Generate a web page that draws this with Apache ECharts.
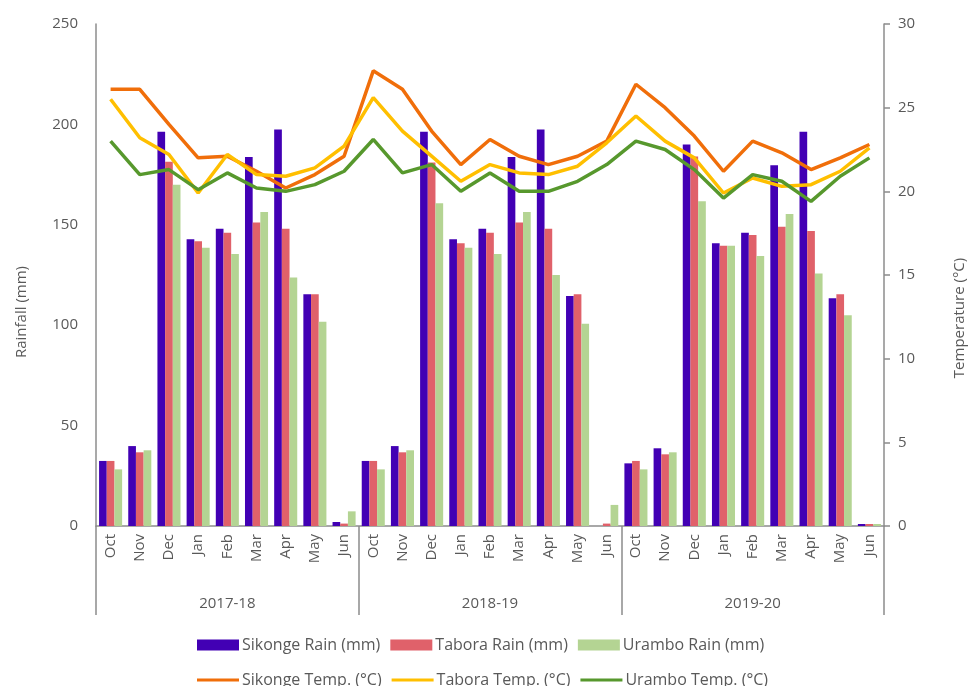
<!DOCTYPE html>
<html>
<head>
<meta charset="utf-8">
<script src="https://cdn.jsdelivr.net/npm/echarts@6/dist/echarts.min.js"></script>
<style>
    html, body { margin: 0; padding: 0; background: #fff; }
    #chart { width: 971px; height: 686px; }
</style>
</head>
<body>
<div id="chart"></div>
<script>
    // months per season, 3 seasons
    const months = ['Oct', 'Nov', 'Dec', 'Jan', 'Feb', 'Mar', 'Apr', 'May', 'Jun']
    const seasons = ['2017-18', '2018-19', '2019-20']
    const categories = [].concat(months, months, months)

    // rainfall (mm), left axis
    const sikongeRain = [32.4, 39.8, 196.4, 142.8, 148, 183.8, 197.5, 115.4, 2,
        32.4, 39.8, 196.4, 142.8, 148, 183.8, 197.5, 114.5, 0,
        31.2, 38.7, 190, 140.8, 146, 179.6, 196.4, 113.4, 1]
    const taboraRain = [32.4, 36.7, 181.4, 141.8, 146, 151.2, 148, 115.4, 1.2,
        32.4, 36.7, 181, 140.8, 146, 151.2, 148, 115.4, 1.2,
        32.4, 35.7, 184, 139.6, 144.9, 149, 146.9, 115.4, 1]
    const uramboRain = [28.2, 37.7, 170, 138.6, 135.5, 156.4, 123.8, 101.7, 7.3,
        28.2, 37.7, 160.7, 138.6, 135.5, 156.4, 125, 100.7, 10.5,
        28.2, 36.7, 161.7, 139.6, 134.5, 155.4, 125.8, 104.9, 1]

    // temperature (°C), right axis
    const sikongeTemp = [26.1, 26.1, 24.0, 22.0, 22.1, 21.2, 20.2, 21.0, 22.1,
        27.2, 26.1, 23.6, 21.6, 23.1, 22.1, 21.6, 22.1, 23.0,
        26.4, 25.0, 23.3, 21.2, 23.0, 22.3, 21.3, 22.0, 22.8]
    const taboraTemp = [25.5, 23.2, 22.2, 19.9, 22.2, 21.0, 20.9, 21.4, 22.7,
        25.6, 23.6, 22.1, 20.6, 21.6, 21.1, 21.0, 21.5, 22.9,
        24.5, 23.0, 22.0, 19.9, 20.8, 20.3, 20.4, 21.2, 22.6]
    const uramboTemp = [23.0, 21.0, 21.3, 20.1, 21.1, 20.2, 20.0, 20.4, 21.2,
        23.1, 21.1, 21.6, 20.0, 21.1, 20.0, 20.0, 20.6, 21.6,
        23.0, 22.5, 21.3, 19.6, 21.0, 20.6, 19.4, 20.9, 22.0]

    const font = 'Open Sans'
    const textColor = '#595959'
    const axisColor = '#8c8c8c'

    const chart = echarts.init(document.getElementById('chart'))

    const bar = (name, data, color) => ({
        name: name,
        type: 'bar',
        yAxisIndex: 0,
        barGap: '0%',
        barCategoryGap: '21%',
        itemStyle: { color: color },
        data: data
    })
    const line = (name, data, color) => ({
        name: name,
        type: 'line',
        yAxisIndex: 1,
        symbol: 'none',
        lineStyle: { color: color, width: 3.5 },
        itemStyle: { color: color },
        data: data
    })

    const option = {
        animation: false,
        textStyle: { fontFamily: font },
        grid: { left: 96, right: 87, top: 24, bottom: 160, containLabel: false },
        legend: [
            {
                data: ['Sikonge Rain (mm)', 'Tabora Rain (mm)', 'Urambo Rain (mm)'],
                left: 192,
                top: 632,
                icon: 'rect',
                itemWidth: 42,
                itemHeight: 11,
                itemGap: 10,
                textStyle: { fontFamily: font, fontSize: 16, color: textColor, padding: [0, 0, 0, -2] }
            },
            {
                data: ['Sikonge Temp. (°C)', 'Tabora Temp. (°C)', 'Urambo Temp. (°C)'],
                left: 192,
                top: 667,
                icon: 'rect',
                itemWidth: 42,
                itemHeight: 3,
                itemGap: 10,
                textStyle: { fontFamily: font, fontSize: 16, color: textColor, padding: [0, 0, 0, -2] }
            }
        ],
        xAxis: [
            {
                type: 'category',
                data: categories,
                position: 'bottom',
                axisLine: { show: true, lineStyle: { color: axisColor, width: 1.5 } },
                axisTick: { show: false },
                axisLabel: { rotate: 90, interval: 0, margin: 8, fontSize: 15, color: textColor, fontFamily: font }
            },
            {
                type: 'category',
                data: seasons,
                position: 'bottom',
                axisLine: { show: false },
                axisTick: { show: true, length: 89, lineStyle: { color: axisColor, width: 1.5 } },
                axisLabel: { margin: 70, fontSize: 15, color: textColor, fontFamily: font }
            }
        ],
        yAxis: [
            {
                type: 'value',
                min: 0,
                max: 250,
                interval: 50,
                axisLine: { show: true, lineStyle: { color: axisColor, width: 1.5 } },
                axisTick: { show: false },
                splitLine: { show: false },
                axisLabel: { margin: 18, fontSize: 15, color: textColor, fontFamily: font }
            },
            {
                type: 'value',
                min: 0,
                max: 30,
                interval: 5,
                position: 'right',
                axisLine: { show: true, lineStyle: { color: axisColor, width: 1.5 } },
                axisTick: { show: true, length: 6, lineStyle: { color: axisColor, width: 1.5 } },
                splitLine: { show: false },
                axisLabel: { margin: 14, fontSize: 15, color: textColor, fontFamily: font }
            }
        ],
        graphic: [
            {
                type: 'text',
                x: 22,
                y: 312,
                rotation: Math.PI / 2,
                style: { text: 'Rainfall (mm)', font: '15px "Open Sans"', fill: textColor, align: 'center', verticalAlign: 'middle' }
            },
            {
                type: 'text',
                x: 960,
                y: 318,
                rotation: Math.PI / 2,
                style: { text: 'Temperature (°C)', font: '15px "Open Sans"', fill: textColor, align: 'center', verticalAlign: 'middle' }
            }
        ],
        series: [
            bar('Sikonge Rain (mm)', sikongeRain, '#4200B4'),
            bar('Tabora Rain (mm)', taboraRain, '#E0616A'),
            bar('Urambo Rain (mm)', uramboRain, '#B4D493'),
            line('Sikonge Temp. (°C)', sikongeTemp, '#F06E0A'),
            line('Tabora Temp. (°C)', taboraTemp, '#FFBF00'),
            line('Urambo Temp. (°C)', uramboTemp, '#57982D')
        ]
    }
    chart.setOption(option)
</script>
</body>
</html>
